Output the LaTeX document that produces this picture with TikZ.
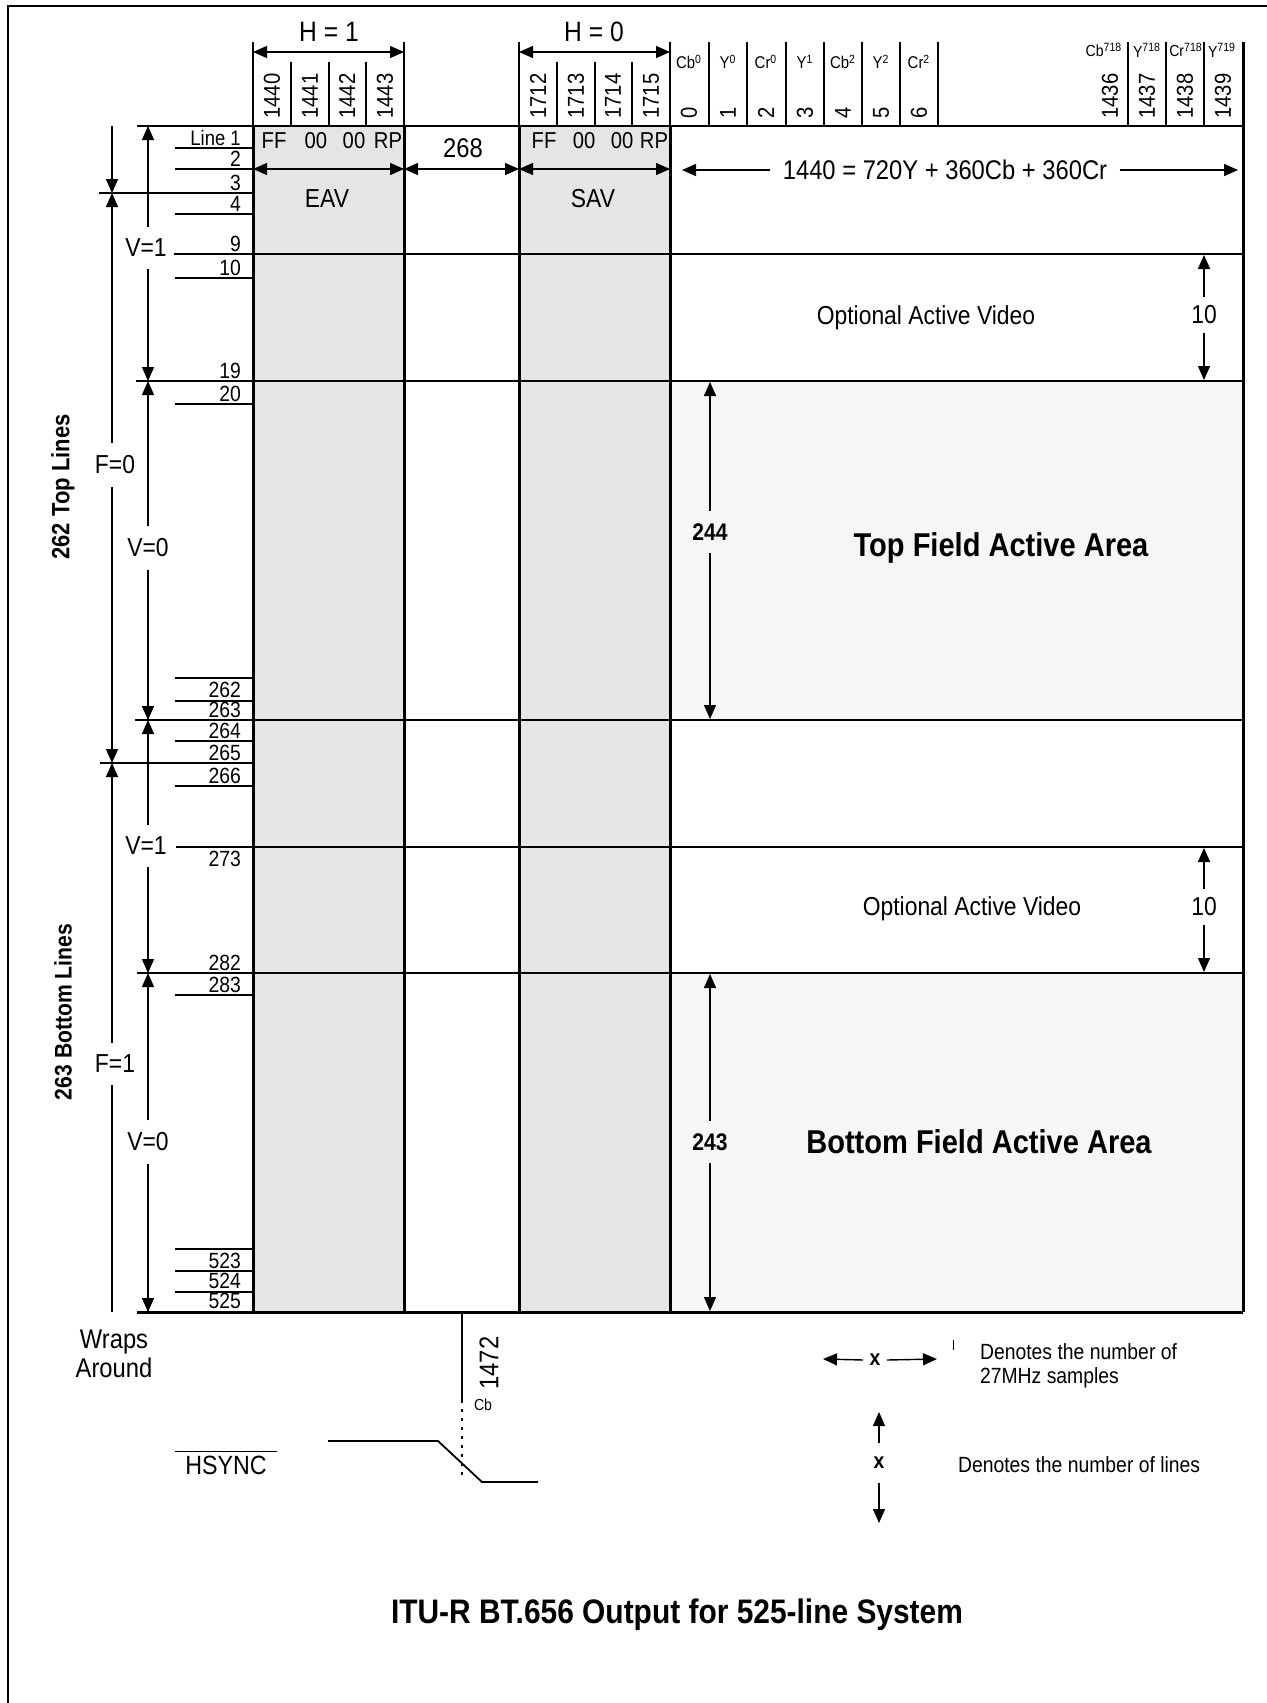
\documentclass[tikz,border=0pt]{standalone}
\usepackage{fontspec}
\setmainfont{Liberation Sans}[FakeStretch=0.88]
\usetikzlibrary{arrows.meta}

\definecolor{avgray}{gray}{0.90}
\definecolor{actgray}{gray}{0.965}
\newcommand{\fsz}[1]{\fontsize{#1}{#1}\selectfont}

\begin{document}
\begin{tikzpicture}[x=0.5pt,y=-0.5pt,>={Triangle[length=7pt,width=6pt]},
    tblline/.style={line width=1pt},
    colline/.style={line width=1.5pt},
    hdrline/.style={line width=0.9pt},
    rowtick/.style={line width=0.8pt},
    dimline/.style={line width=0.7pt},
    txt/.style={inner sep=1pt,font=\fsz{13pt}},
    rowno/.style={anchor=south east,inner sep=0.4pt,font=\fsz{11pt}},
    hdrno/.style={rotate=90,anchor=west,inner sep=1pt,font=\fsz{11.5pt}},
    smp/.style={inner sep=0.5pt,font=\fsz{8.5pt}},
    gaplbl/.style={inner sep=6pt,font=\fsz{13pt}},
    bigbold/.style={font=\bfseries\fsz{16.5pt}}]
    \useasboundingbox (0,0) rectangle (1267,1703);
    \coordinate (fx) at (112,0);
    \coordinate (vx) at (148,0);

    % frame
    \draw[line width=1pt] (8,1703) -- (8,6) -- (1267,6);

    % shaded blocks
    \fill[avgray] (253,126) rectangle (404,1312);
    \fill[avgray] (519,126) rectangle (670,1312);
    \fill[actgray] (670,381) rectangle (1243,720);
    \fill[actgray] (670,973) rectangle (1243,1312);

    % table rows
    \draw[tblline] (137,126) -- (1243,126);
    \draw[tblline] (174,254) -- (1243,254);
    \draw[tblline] (136,381) -- (1243,381);
    \draw[tblline] (135,720) -- (1243,720);
    \draw[tblline] (176,847) -- (1243,847);
    \draw[tblline] (137,973) -- (1243,973);
    \draw[line width=1.5pt] (137,1312) -- (1243,1312);
    \draw[tblline] (99,193) -- (253,193);
    \draw[tblline] (100,763) -- (253,763);
    \foreach \y in {148,169,214,278,404,678,701,741,786,995,1249,1271,1292}
        \draw[rowtick] (175,\y) -- (253,\y);

    % table columns
    \foreach \x in {253,404,519,670}
        \draw[colline] (\x,126) -- (\x,1312);
    \draw[colline] (1243,42) -- (1243,1312);

    % header
    \foreach \x in {253,404,519,670,709,747,786,824,862,900,938,1128,1166,1204}
        \draw[hdrline] (\x,42) -- (\x,126);
    \foreach \x in {291,329,366,557,595,632}
        \draw[hdrline] (\x,62) -- (\x,126);
    \foreach \x/\t in {272/1440,310/1441,347/1442,385/1443,538/1712,576/1713,613/1714,651/1715,
                       689/0,728/1,766/2,805/3,843/4,881/5,919/6,1110/1436,1147/1437,1185/1438,1223/1439}
        \node[hdrno] (h\t) at (\x,121) {\t};
    \foreach \x/\a/\b in {689/Cb/0,728/Y/0,766/Cr/0,805/Y/1,843/Cb/2,881/Y/2,919/Cr/2}
        \node[smp] (s\x) at (\x,62) {\a\textsuperscript{\b}};
    \foreach \x/\a/\b in {1104/Cb/718,1147/Y/718,1186/Cr/718,1222/Y/719}
        \node[smp,font=\fsz{8pt}] (s\x) at (\x,50) {\a\textsuperscript{\b}};

    \node[txt,font=\fsz{14pt}] (hone) at (329,32) {H = 1};
    \node[txt,font=\fsz{14pt}] (hzero) at (594,32) {H = 0};
    \draw[<->,dimline] (253,52) -- (404,52);
    \draw[<->,dimline] (519,52) -- (670,52);

    % EAV / SAV words
    \foreach \x/\t [count=\i] in {274/FF,316/00,354/00,388/RP,544/FF,584/00,622/00,654/RP}
        \node[inner sep=1pt,font=\fsz{11.5pt}] (w\i) at (\x,141) {\t};
    \draw[<->,dimline] (253,169) -- (404,169);
    \draw[<->,dimline] (404,169) -- (519,169);
    \draw[<->,dimline] (519,169) -- (670,169);
    \node[txt,font=\fsz{13.5pt}] (blank) at (463,148) {268};
    \node[txt] (eav) at (327,199) {EAV};
    \node[txt] (sav) at (593,199) {SAV};

    \node[inner sep=6pt,font=\fsz{13.5pt}] (fmla) at (945,170) {1440 = 720Y + 360Cb + 360Cr};
    \draw[->,dimline] (fmla.west) -- (682,170);
    \draw[->,dimline] (fmla.east) -- (1238,170);

    % line numbers
    \node[rowno,font=\fsz{10.5pt}] (rline) at (242,147) {Line 1};
    \foreach \y/\t in {168/2,192/3,213/4,253/9,277/10,380/19,403/20,699/262,719/263,740/264,762/265,
                       785/266,868/273,972/282,994/283,1270/523,1290/524,1310/525}
        \node[rowno] (r\t) at (242,\y) {\t};

    % field and vertical blanking
    \draw[->,dimline] (112,126) -- (112,193);
    \node[gaplbl] (fzero) at (115,465) {F=0};
    \draw[->,dimline] (fzero.north -| fx) -- (112,193);
    \draw[->,dimline] (fzero.south -| fx) -- (112,763);
    \node[gaplbl] (fone) at (115,1064) {F=1};
    \draw[->,dimline] (fone.north -| fx) -- (112,763);
    \draw[dimline] (fone.south -| fx) -- (112,1312);

    \node[gaplbl] (vonea) at (146,248) {V=1};
    \draw[->,dimline] (vonea.north -| vx) -- (148,126);
    \draw[->,dimline] (vonea.south -| vx) -- (148,381);
    \node[gaplbl] (vzeroa) at (148,548) {V=0};
    \draw[->,dimline] (vzeroa.north -| vx) -- (148,381);
    \draw[->,dimline] (vzeroa.south -| vx) -- (148,720);
    \node[gaplbl] (voneb) at (146,846) {V=1};
    \draw[->,dimline] (voneb.north -| vx) -- (148,720);
    \draw[->,dimline] (voneb.south -| vx) -- (148,973);
    \node[gaplbl] (vzerob) at (148,1142) {V=0};
    \draw[->,dimline] (vzerob.north -| vx) -- (148,973);
    \draw[->,dimline] (vzerob.south -| vx) -- (148,1312);

    \node[rotate=90,font=\bfseries\fsz{12.5pt}] (toplines) at (63,487) {262 Top Lines};
    \node[rotate=90,font=\bfseries\fsz{12pt}] (botlines) at (63,1012) {263 Bottom Lines};

    % active video
    \node[txt] (opta) at (926,318) {Optional Active Video};
    \node[inner sep=4pt,font=\fsz{13pt}] (tena) at (1204,315) {10};
    \draw[->,dimline] (tena.north) -- (1204,255);
    \draw[->,dimline] (tena.south) -- (1204,380);
    \node[txt] (optb) at (972,909) {Optional Active Video};
    \node[inner sep=4pt,font=\fsz{13pt}] (tenb) at (1204,907) {10};
    \draw[->,dimline] (tenb.north) -- (1204,848);
    \draw[->,dimline] (tenb.south) -- (1204,972);

    \node[inner sep=6pt,font=\bfseries\fsz{12pt}] (topn) at (710,532) {244};
    \draw[->,dimline] (topn.north) -- (710,382);
    \draw[->,dimline] (topn.south) -- (710,719);
    \node[bigbold] (topa) at (1001,548) {Top Field Active Area};
    \node[inner sep=6pt,font=\bfseries\fsz{12pt}] (botn) at (710,1142) {243};
    \draw[->,dimline] (botn.north) -- (710,974);
    \draw[->,dimline] (botn.south) -- (710,1311);
    \node[bigbold] (bota) at (979,1142) {Bottom Field Active Area};

    % below the table
    \node[align=center,font=\fontsize{13.5pt}{14.5pt}\selectfont] (wrap) at (114,1354) {Wraps\\Around};
    \draw[line width=0.9pt] (462,1312) -- (462,1400);
    \draw[line width=0.9pt,dash pattern=on 1.5pt off 3pt] (462,1400) -- (462,1478);
    \node[rotate=90,inner sep=1pt,font=\fsz{13.5pt}] (hend) at (489,1363) {1472};
    \node[smp,font=\fsz{8pt}] (hcb) at (483,1405) {Cb};
    \node[inner xsep=5pt,inner ysep=1.8pt,font=\fsz{13.2pt}] (hsync) at (226,1465) {HSYNC};
    \draw[line width=0.8pt] (hsync.north west) -- (hsync.north east);
    \draw[line width=0.9pt] (328,1441) -- (438,1441) -- (482,1482) -- (538,1482);

    % legend
    \node[inner xsep=3pt,inner ysep=0pt,font=\bfseries\fsz{11pt}] (keyh) at (875,1360) {x};
    \draw[->,dimline] (keyh.west) -- (823,1359);
    \draw[->,dimline] (keyh.east) -- (937,1359);
    \draw[line width=0.5pt] (953,1340) -- (953,1350);
    \node[anchor=west,align=left,font=\fontsize{11pt}{12pt}\selectfont] (keyht) at (973,1366)
        {Denotes the number of\\27MHz samples};
    \node[inner xsep=0pt,inner ysep=7pt,font=\bfseries\fsz{11pt}] (keyv) at (879,1463) {x};
    \draw[->,dimline] (keyv.north) -- (879,1412);
    \draw[->,dimline] (keyv.south) -- (879,1523);
    \node[anchor=west,font=\fsz{11pt}] (keyvt) at (951,1465) {Denotes the number of lines};

    \node[font=\bfseries\fsz{17pt}] (title) at (677,1615) {ITU-R BT.656 Output for 525-line System};
\end{tikzpicture}
\end{document}
